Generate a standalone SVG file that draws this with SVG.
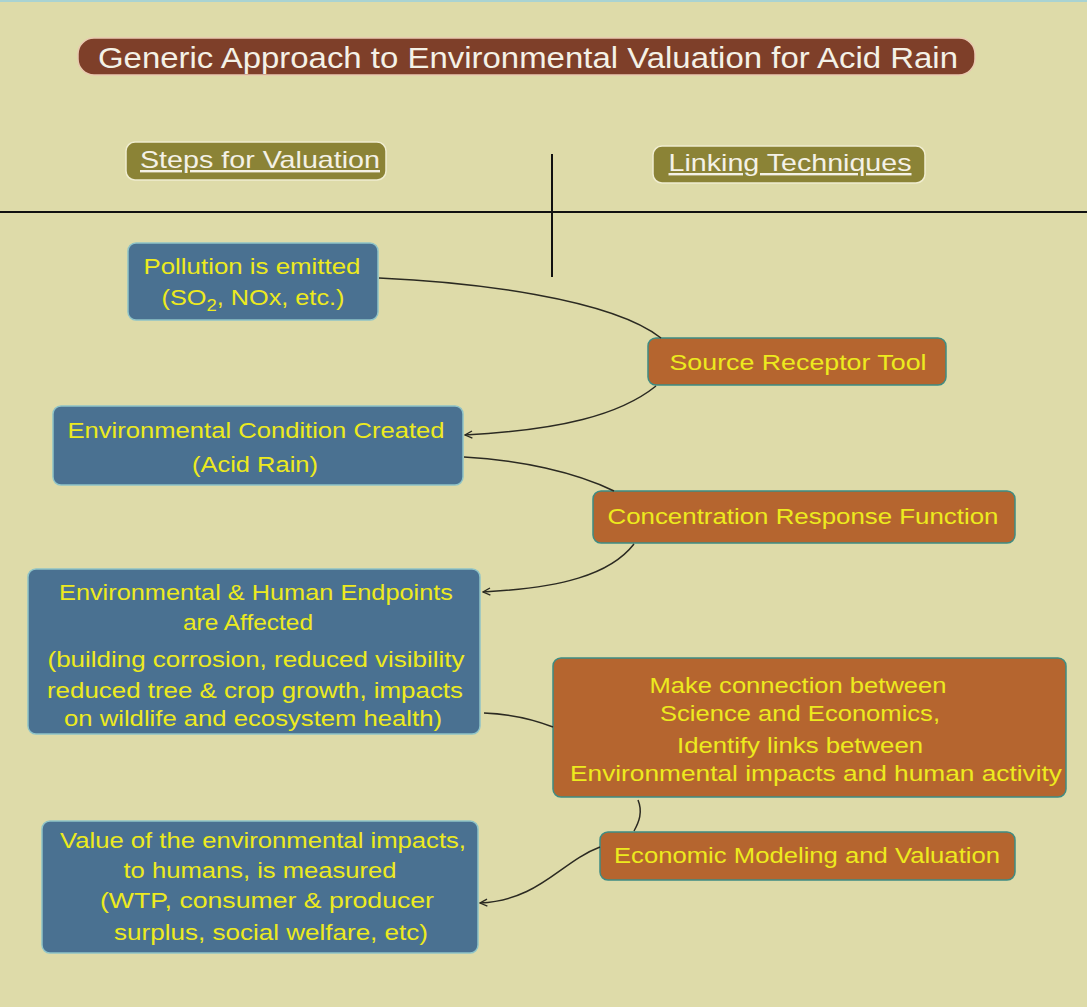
<svg xmlns="http://www.w3.org/2000/svg" width="1087" height="1007" viewBox="0 0 1087 1007">
<defs>
<style>
.bg{fill:#DEDBA9}
.blue rect{fill:#4A7191;stroke:#8FC4C8;stroke-width:1.5}
.orange rect{fill:#B5652F;stroke:#3E8C84;stroke-width:1.5}
.t{font-family:"Liberation Sans",Arial,sans-serif;text-anchor:middle}
.y{fill:#EDEA1E;font-size:22px}
.w{fill:#F4F1E6}
.conn path{fill:none;stroke:#2B2A22;stroke-width:1.5}
</style>
<marker id="arr" viewBox="0 0 10 10" refX="9" refY="5" markerWidth="9" markerHeight="9" orient="auto" markerUnits="userSpaceOnUse">
<path d="M1,1 L9,5 L1,9" fill="none" stroke="#2B2A22" stroke-width="1.5"/>
</marker>
</defs>
<rect class="bg" x="0" y="0" width="1087" height="1007"/>
<line x1="0" y1="1" x2="1087" y2="1" stroke="#A9D3D2" stroke-width="2"/>

<g id="title">
<rect x="78" y="38" width="897" height="37" rx="16" fill="#7E3F29" stroke="#E9C9B0" stroke-width="1.5"/>
<text class="t w" x="528" y="68" font-size="30" textLength="860" lengthAdjust="spacingAndGlyphs">Generic Approach to Environmental Valuation for Acid Rain</text>
</g>

<g id="steps-header">
<rect x="126" y="142" width="260" height="38" rx="9" fill="#8B8336" stroke="#F0EDD0" stroke-width="1.5"/>
<text class="t w" x="260" y="168" font-size="24" text-decoration="underline" textLength="240" lengthAdjust="spacingAndGlyphs">Steps for Valuation</text>
</g>
<g id="linking-header">
<rect x="653" y="146" width="272" height="37" rx="9" fill="#8B8336" stroke="#F0EDD0" stroke-width="1.5"/>
<text class="t w" x="790" y="171" font-size="24" text-decoration="underline" textLength="243" lengthAdjust="spacingAndGlyphs">Linking Techniques</text>
</g>

<g id="axes" stroke="#111" stroke-width="2">
<line x1="0" y1="212" x2="1087" y2="212"/>
<line x1="552" y1="154" x2="552" y2="277"/>
</g>

<g id="pollution" class="blue">
<rect x="128" y="243" width="250" height="77" rx="8"/>
<text class="t y" x="252" y="274" textLength="217" lengthAdjust="spacingAndGlyphs">Pollution is emitted</text>
<text class="t y" x="253" y="305" textLength="183" lengthAdjust="spacingAndGlyphs">(SO<tspan font-size="16" dy="6">2</tspan><tspan dy="-6">, NOx, etc.)</tspan></text>
</g>

<g id="source-receptor" class="orange">
<rect x="648" y="338" width="298" height="47" rx="8"/>
<text class="t y" x="798" y="370" textLength="257" lengthAdjust="spacingAndGlyphs">Source Receptor Tool</text>
</g>

<g id="env-condition" class="blue">
<rect x="53" y="406" width="410" height="79" rx="8"/>
<text class="t y" x="256" y="438" textLength="377" lengthAdjust="spacingAndGlyphs">Environmental Condition Created</text>
<text class="t y" x="255" y="472" textLength="126" lengthAdjust="spacingAndGlyphs">(Acid Rain)</text>
</g>

<g id="concentration" class="orange">
<rect x="593" y="491" width="422" height="52" rx="8"/>
<text class="t y" x="803" y="524" textLength="391" lengthAdjust="spacingAndGlyphs">Concentration Response Function</text>
</g>

<g id="endpoints" class="blue">
<rect x="28" y="569" width="452" height="165" rx="8"/>
<text class="t y" x="256" y="600" textLength="394" lengthAdjust="spacingAndGlyphs">Environmental &amp; Human Endpoints</text>
<text class="t y" x="248" y="630" textLength="130" lengthAdjust="spacingAndGlyphs">are Affected</text>
<text class="t y" x="256" y="667" textLength="417" lengthAdjust="spacingAndGlyphs">(building corrosion, reduced visibility</text>
<text class="t y" x="255" y="698" textLength="416" lengthAdjust="spacingAndGlyphs">reduced tree &amp; crop growth, impacts</text>
<text class="t y" x="253" y="726" textLength="378" lengthAdjust="spacingAndGlyphs">on wildlife and ecosystem health)</text>
</g>

<g id="connection" class="orange">
<rect x="553" y="658" width="513" height="139" rx="8"/>
<text class="t y" x="798" y="693" textLength="297" lengthAdjust="spacingAndGlyphs">Make connection between</text>
<text class="t y" x="800" y="721" textLength="280" lengthAdjust="spacingAndGlyphs">Science and Economics,</text>
<text class="t y" x="800" y="753" textLength="246" lengthAdjust="spacingAndGlyphs">Identify links between</text>
<text class="t y" x="816" y="781" textLength="492" lengthAdjust="spacingAndGlyphs">Environmental impacts and human activity</text>
</g>

<g id="economic" class="orange">
<rect x="600" y="832" width="415" height="48" rx="8"/>
<text class="t y" x="807" y="863" textLength="386" lengthAdjust="spacingAndGlyphs">Economic Modeling and Valuation</text>
</g>

<g id="value" class="blue">
<rect x="42" y="821" width="436" height="132" rx="8"/>
<text class="t y" x="263" y="848" textLength="406" lengthAdjust="spacingAndGlyphs">Value of the environmental impacts,</text>
<text class="t y" x="260" y="878" textLength="273" lengthAdjust="spacingAndGlyphs">to humans, is measured</text>
<text class="t y" x="267" y="908" textLength="334" lengthAdjust="spacingAndGlyphs">(WTP, consumer &amp; producer</text>
<text class="t y" x="271" y="940" textLength="314" lengthAdjust="spacingAndGlyphs">surplus, social welfare, etc)</text>
</g>

<g id="connectors" class="conn">
<path d="M379,278 C470,282 610,298 661,338"/>
<path d="M656,386 C620,415 560,430 465,435" marker-end="url(#arr)"/>
<path d="M464,457 C520,460 575,472 614,491"/>
<path d="M634,544 C610,575 560,588 483,592" marker-end="url(#arr)"/>
<path d="M484,713 C510,714 535,720 553,727"/>
<path d="M638,800 C643,812 639,822 634,831"/>
<path d="M600,847 C560,862 540,900 480,903" marker-end="url(#arr)"/>
</g>
</svg>
